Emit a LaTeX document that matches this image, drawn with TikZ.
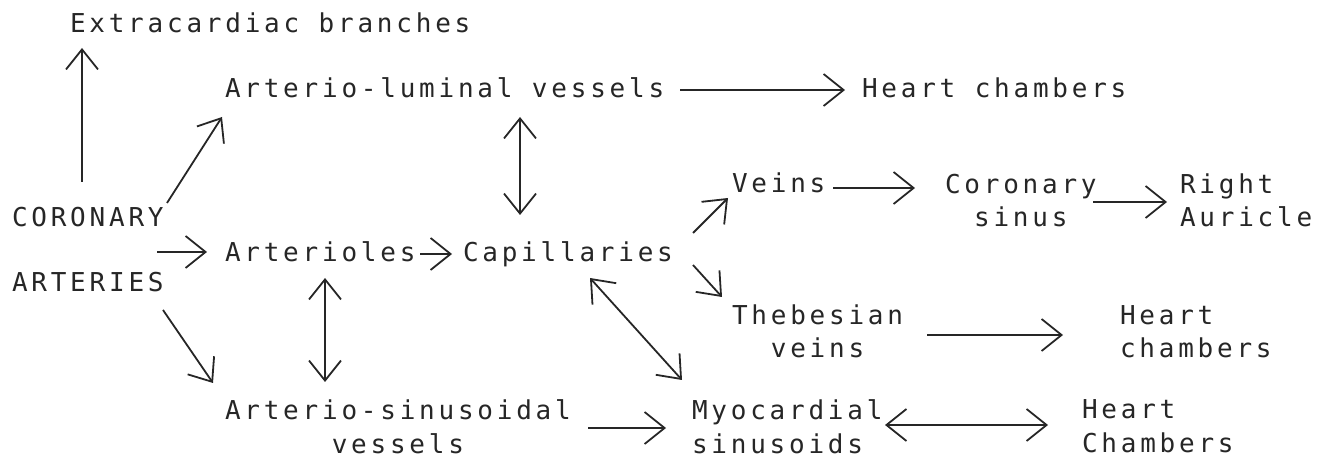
\documentclass[tikz,border=0pt]{standalone}
\usepackage{fontspec}
\newfontfamily\typefont[LetterSpace=14.5]{DejaVu Sans Mono}
\usetikzlibrary{arrows.meta}
\tikzset{
  txt/.style={font=\typefont\fontsize{13pt}{16.75pt}\selectfont, inner sep=0pt, outer sep=0pt, anchor=base west},
}
\begin{document}
\begin{tikzpicture}[x=0.5pt, y=-0.5pt, >={Straight Barb[length=10pt,width=16pt]}, line width=0.9pt, color=black!85]
\useasboundingbox (0,0) rectangle (1326,458);
% nodes, placed at the left end of their last baseline
\node[txt] (extra) at (70,33) {Extracardiac branches};
\node[txt] (alv) at (225,98) {Arterio-luminal vessels};
\node[txt] (hc1) at (862,98) {Heart chambers};
\node[txt, align=left] (ca) at (12,292) {CORONARY\\[15.75pt]ARTERIES};
\node[txt] (arl) at (225,262) {Arterioles};
\node[txt] (cap) at (463,262) {Capillaries};
\node[txt] (veins) at (732,193) {Veins};
\node[txt, align=center] (cs) at (945,227) {Coronary\\sinus};
\node[txt, align=left] (ra) at (1180,227) {Right\\Auricle};
\node[txt, align=center] (thv) at (732,358) {Thebesian\\veins};
\node[txt, align=left] (hc2) at (1120,358) {Heart\\chambers};
\node[txt, align=center] (ars) at (225,453) {Arterio-sinusoidal\\vessels};
\node[txt, align=left] (myo) at (692,453) {Myocardial\\sinusoids};
\node[txt, align=left] (hc3) at (1082,452) {Heart\\Chambers};
% arrows
\draw[->] ([shift={(70,-110)}]ca.base west) -- ([shift={(12,15)}]extra.base west);
\draw[->] ([shift={(155,-89)}]ca.base west) -- ([shift={(-3,19)}]alv.base west);
\draw[->] ([shift={(145,-40)}]ca.base west) -- ([shift={(-18,-10)}]arl.base west);
\draw[->] ([shift={(151,18)}]ca.base west) -- ([shift={(-12,-70)}]ars.base west);
\draw[->] ([shift={(455,-8)}]alv.base west) -- ([shift={(-17,-8)}]hc1.base west);
\draw[<->] ([shift={(295,19)}]alv.base west) -- ([shift={(57,-47)}]cap.base west);
\draw[->] ([shift={(195,-8)}]arl.base west) -- ([shift={(-11,-8)}]cap.base west);
\draw[<->] ([shift={(100,16)}]arl.base west) -- ([shift={(100,-71)}]ars.base west);
\draw[->] ([shift={(230,-29)}]cap.base west) -- ([shift={(-4,5)}]veins.base west);
\draw[->] ([shift={(230,3)}]cap.base west) -- ([shift={(-10,-61)}]thv.base west);
\draw[<->] ([shift={(127,16)}]cap.base west) -- ([shift={(-10,-73)}]myo.base west);
\draw[->] ([shift={(101,-5)}]veins.base west) -- ([shift={(-30,-39)}]cs.base west);
\draw[->] ([shift={(148,-25)}]cs.base west) -- ([shift={(-13,-25)}]ra.base west);
\draw[->] ([shift={(195,-23)}]thv.base west) -- ([shift={(-57,-23)}]hc2.base west);
\draw[->] ([shift={(363,-25)}]ars.base west) -- ([shift={(-26,-25)}]myo.base west);
\draw[<->] ([shift={(193,-28)}]myo.base west) -- ([shift={(-34,-27)}]hc3.base west);
\end{tikzpicture}
\end{document}
